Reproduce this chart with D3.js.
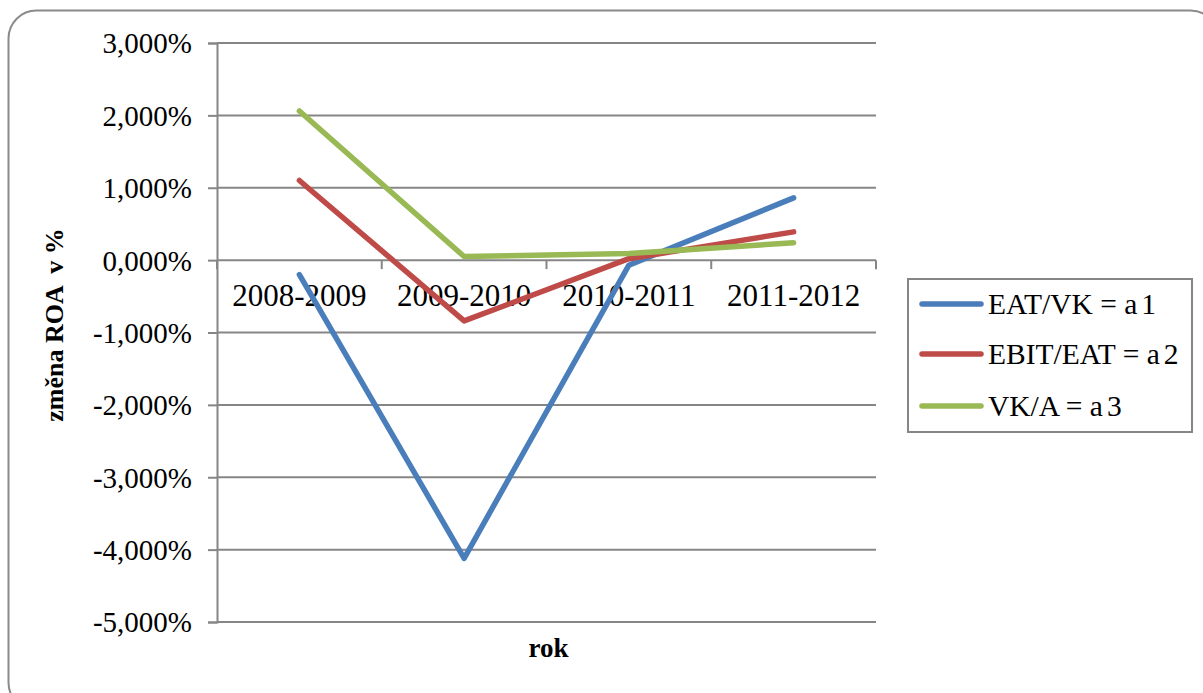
<!DOCTYPE html>
<html>
<head>
<meta charset="utf-8">
<script src="https://cdn.jsdelivr.net/npm/d3@7"></script>
<style>
  html, body { margin: 0; padding: 0; background: #fff; }
  svg { display: block; }
  text { font-family: "Liberation Serif", "Times New Roman", serif; fill: #000; }
</style>
</head>
<body>
<svg id="chart" width="1203" height="693"></svg>
<script>
// Category labels (periods) and year-on-year change of ROA factors, in %
const periods = ["2008-2009", "2009-2010", "2010-2011", "2011-2012"];
const a1Values = [-0.20, -4.12, -0.07, 0.86];   // EAT/VK = a1
const a2Values = [1.10, -0.84, 0.02, 0.39];     // EBIT/EAT = a2
const a3Values = [2.06, 0.05, 0.09, 0.24];      // VK/A = a3
const seriesNames = ["EAT/VK = a", "EBIT/EAT = a", "VK/A = a"];
const seriesIdx = ["1", "2", "3"];
const seriesColors = ["#4A7EBB", "#BE4B48", "#98B954"];
const yTicks = [3, 2, 1, 0, -1, -2, -3, -4, -5];
const yTitle = "změna ROA  v %";
const xTitle = "rok";

const svg = d3.select("#chart");
const serif = "Liberation Serif";

// outer rounded frame
svg.append("rect")
  .attr("x", 8.5).attr("y", 10.5)
  .attr("width", 1210).attr("height", 700)
  .attr("rx", 28).attr("ry", 28)
  .attr("fill", "#fff").attr("stroke", "#8a8a8a").attr("stroke-width", 2);

const plot = { left: 217, right: 876, top: 43, bottom: 622 };

const x = d3.scaleBand().domain(periods).range([plot.left, plot.right]).paddingInner(0).paddingOuter(0);
const y = d3.scaleLinear().domain([-5, 3]).range([plot.bottom, plot.top]);

const fmt = v => d3.format(".3f")(v).replace(".", ",").replace("−", "-") + "%";

// y axis with tick labels
const yAxis = d3.axisLeft(y).tickValues(yTicks).tickSize(9).tickPadding(16).tickFormat(fmt);
const gy = svg.append("g").attr("transform", `translate(${plot.left},0)`).call(yAxis);
gy.attr("font-family", serif);
gy.select(".domain").attr("stroke", "#868686").attr("stroke-width", 2);
gy.selectAll(".tick line").attr("stroke", "#868686").attr("stroke-width", 2);
gy.selectAll(".tick text")
  .attr("font-family", serif).attr("font-size", 29).attr("fill", "#000")
  .attr("dy", "0.34em");

// horizontal gridlines
svg.append("g").selectAll("line").data(yTicks).join("line")
  .attr("x1", plot.left).attr("x2", plot.right)
  .attr("y1", d => y(d)).attr("y2", d => y(d))
  .attr("stroke", "#868686").attr("stroke-width", 2);

// category axis at zero
const y0 = y(0);
const boundaries = periods.map(p => x(p) + x.bandwidth()).concat([x(periods[0])]);
svg.append("g").selectAll("line").data(boundaries).join("line")
  .attr("x1", d => d).attr("x2", d => d)
  .attr("y1", y0).attr("y2", y0 + 9)
  .attr("stroke", "#868686").attr("stroke-width", 2);

svg.append("g").selectAll("text").data(periods).join("text")
  .attr("x", d => x(d) + x.bandwidth() / 2)
  .attr("y", y0 + 46)
  .attr("text-anchor", "middle")
  .attr("font-family", serif)
  .attr("font-size", 31)
  .text(d => d);

// series lines
const cx = p => x(p) + x.bandwidth() / 2;
const line = d3.line().x((d, i) => cx(periods[i])).y(d => y(d));
[a1Values, a2Values, a3Values].forEach((vals, k) => {
  svg.append("path")
    .datum(vals)
    .attr("d", line)
    .attr("fill", "none")
    .attr("stroke", seriesColors[k])
    .attr("stroke-width", 5.5)
    .attr("stroke-linecap", "round")
    .attr("stroke-linejoin", "round");
});

// axis titles
svg.append("text")
  .attr("transform", "translate(63, 325) rotate(-90)")
  .attr("text-anchor", "middle")
  .attr("font-family", serif)
  .attr("font-size", 26).attr("font-weight", "bold")
  .attr("xml:space", "preserve")
  .style("white-space", "pre")
  .text(yTitle);

svg.append("text")
  .attr("x", (plot.left + plot.right) / 2 + 2)
  .attr("y", 657)
  .attr("text-anchor", "middle")
  .attr("font-family", serif)
  .attr("font-size", 27).attr("font-weight", "bold")
  .text(xTitle);

// legend
const lg = svg.append("g");
lg.append("rect")
  .attr("x", 908).attr("y", 279).attr("width", 284).attr("height", 153)
  .attr("fill", "#fff").attr("stroke", "#868686").attr("stroke-width", 2);
const legendY = [304, 354, 406];
seriesNames.forEach((name, k) => {
  lg.append("line")
    .attr("x1", 922).attr("x2", 981)
    .attr("y1", legendY[k]).attr("y2", legendY[k])
    .attr("stroke", seriesColors[k]).attr("stroke-width", 5.5)
    .attr("stroke-linecap", "round");
  const t = lg.append("text")
    .attr("x", 988).attr("y", legendY[k] + 10)
    .attr("font-family", serif)
    .attr("font-size", 29.5);
  t.append("tspan").text(name);
  t.append("tspan").attr("dx", 4).text(seriesIdx[k]);
});
</script>
</body>
</html>
